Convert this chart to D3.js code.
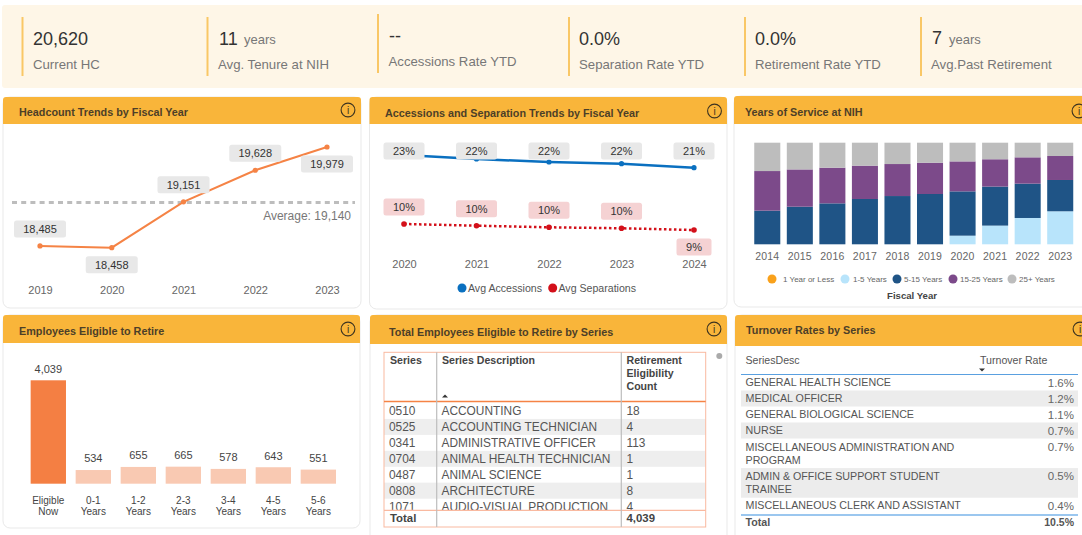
<!DOCTYPE html>
<html><head><meta charset="utf-8">
<script src="https://cdn.jsdelivr.net/npm/d3@7"></script>
<style>
html,body{margin:0;padding:0;background:#fff;overflow:hidden}
svg{display:block}
text{font-family:"Liberation Sans",Arial,sans-serif}
</style></head><body><svg id="c" width="1082" height="535"></svg>
<script>
// ---------- data ----------
const kpiValues=["20,620","11","--","0.0%","0.0%","7"];
const kpiUnits=["","years","","","","years"];
const kpiLabels=["Current HC","Avg. Tenure at NIH","Accessions Rate YTD","Separation Rate YTD","Retirement Rate YTD","Avg.Past Retirement"];
const hcYears=["2019","2020","2021","2022","2023"];
const hcValues=[18485,18458,19151,19628,19979];
const hcAverage=19140;
const rateYears=["2020","2021","2022","2023","2024"];
const avgAccessions=[23.2,22.46,21.9,21.59,20.85];
const avgSeparations=[10.42,10.11,9.81,9.63,9.31];
const serviceYears=["2014","2015","2016","2017","2018","2019","2020","2021","2022","2023"];
const serviceBands=["1 Year or Less","1-5 Years","5-15 Years","15-25 Years","25+ Years"];
const serviceLess1=[0,0,0,0,0,0,0,0,0,0];
const service1to5=[0,0,0,0,0,0,8.5,18.4,25.9,32.5];
const service5to15=[33.1,37,40.3,44.6,47.5,49.5,43.6,38.4,33.8,30.8];
const service15to25=[39,36.7,35.1,32.8,31.5,30.8,29.5,26.9,25.9,23.6];
const service25plus=[27.9,26.3,24.6,22.6,21,19.7,18.4,16.3,14.4,13.1];
const retireCats=["Eligible Now","0-1 Years","1-2 Years","2-3 Years","3-4 Years","4-5 Years","5-6 Years"];
const retireValues=[4039,534,655,665,578,643,551];
const seriesCodes=["0510","0525","0341","0704","0487","0808","1071"];
const seriesNames=["ACCOUNTING","ACCOUNTING TECHNICIAN","ADMINISTRATIVE OFFICER","ANIMAL HEALTH TECHNICIAN","ANIMAL SCIENCE","ARCHITECTURE","AUDIO-VISUAL PRODUCTION"];
const seriesCounts=["18","4","113","1","1","8","4"];
const turnoverNames=[["GENERAL HEALTH SCIENCE"],["MEDICAL OFFICER"],["GENERAL BIOLOGICAL SCIENCE"],["NURSE"],["MISCELLANEOUS ADMINISTRATION AND","PROGRAM"],["ADMIN & OFFICE SUPPORT STUDENT","TRAINEE"],["MISCELLANEOUS CLERK AND ASSISTANT"]];
const turnoverRates=["1.6%","1.2%","1.1%","0.7%","0.7%","0.5%","0.4%"];

// ---------- layout ----------
const svg=d3.select("#c");
const FONT='"Liberation Sans",Arial,sans-serif';
const txt=(g,x,y,s,o={})=>g.append("text").attr("x",x).attr("y",y).attr("dy","0.35em")
  .attr("font-size",o.size||12).attr("fill",o.fill||"#555").attr("font-weight",o.weight||400)
  .attr("text-anchor",o.anchor||"start").attr("letter-spacing",o.ls||null).text(s);

// KPI band
svg.append("rect").attr("x",2).attr("y",5).attr("width",1082).attr("height",83).attr("rx",3).attr("fill","#fef6e7");
const kpiX=[22.5,207.5,378,569,745,921];
const kpiTextX=[33,218,388.5,579,755,931];
const kpiValX=[33,219,389,579,755,932];
const kpiUnitX=[0,244,0,0,0,949];
const kpiTop=[17,17,14,17,17,17];
const kpiValY=[38.5,38.5,35.5,38.5,38.5,38];
kpiValues.forEach((v,i)=>{
  const g=svg.append("g");
  g.append("rect").attr("x",kpiX[i]-1).attr("y",kpiTop[i]).attr("width",2).attr("height",59).attr("fill","#f9c766");
  txt(g,kpiValX[i],kpiValY[i],v,{size:18,fill:"#333"});
  if(kpiUnits[i]) txt(g,kpiUnitX[i],kpiValY[i]+1,kpiUnits[i],{size:13,fill:"#777"});
  txt(g,kpiTextX[i],kpiTop[i]+47,kpiLabels[i],{size:13.2,fill:"#777"});
});

// Panels
const panels=[
 {x:3,y:97,w:358,hh:27,h:211,t:"Headcount Trends by Fiscal Year",tx:19,ty:112,ix:348,iy:110},
 {x:369.5,y:97,w:357.5,hh:27,h:212,t:"Accessions and Separation Trends by Fiscal Year",tx:385,ty:113,ix:714.5,iy:111},
 {x:734,y:96,w:360,hh:28,h:211,t:"Years of Service at NIH",tx:745,ty:112,ix:1079,iy:111},
 {x:3,y:315,w:357,hh:28,h:213,t:"Employees Eligible to Retire",tx:19,ty:331,ix:348,iy:329},
 {x:370,y:315,w:357,hh:29,h:230,t:"Total Employees Eligible to Retire by Series",tx:389,ty:332,ix:714,iy:329},
 {x:735,y:315,w:360,hh:31,h:230,t:"Turnover Rates by Series",tx:746,ty:330,ix:1080,iy:329}
];
panels.forEach(p=>{
  const g=svg.append("g");
  g.append("rect").attr("x",p.x).attr("y",p.y).attr("width",p.w).attr("height",p.h).attr("rx",7).attr("fill","#fff").attr("stroke","#e9e9e9");
  g.append("path").attr("fill","#f9b53a").attr("d",`M${p.x},${p.y+p.hh}V${p.y+3}Q${p.x},${p.y} ${p.x+3},${p.y}H${p.x+p.w-3}Q${p.x+p.w},${p.y} ${p.x+p.w},${p.y+3}V${p.y+p.hh}Z`);
  txt(g,p.tx,p.ty,p.t,{size:10.8,weight:700,fill:"#4d3f28"});
  g.append("circle").attr("cx",p.ix).attr("cy",p.iy).attr("r",6.9).attr("fill","none").attr("stroke","#3d3320").attr("stroke-width",1.1);
  txt(g,p.ix,p.iy,"i",{size:10,anchor:"middle",fill:"#3d3320"});
});

function bottomAxis(scale,y,o={}){
  const a=svg.append("g").attr("transform",`translate(0,${y})`).call(d3.axisBottom(scale).tickSize(0).tickPadding(0));
  a.select(".domain").remove();
  a.selectAll("text").attr("font-family",FONT).attr("font-size",o.size||11).attr("fill",o.fill||"#666").attr("letter-spacing",o.ls||null).attr("dy","0.35em");
  return a;
}
function pill(g,cx,cy,w,s,fill){
  g.append("rect").attr("x",cx-w/2).attr("y",cy-8.5).attr("width",w).attr("height",17).attr("rx",2.5).attr("fill",fill);
  txt(g,cx,cy,s,{size:11,anchor:"middle",fill:"#333"});
}

// Chart 1: headcount
{
  const x=d3.scalePoint().domain(hcYears).range([40,327]);
  const y=d3.scaleLinear().domain([18458,19979]).range([247.7,147]);
  const g=svg.append("g");
  g.append("line").attr("x1",12).attr("x2",355).attr("y1",y(hcAverage)).attr("y2",y(hcAverage))
    .attr("stroke","#bdbdbd").attr("stroke-width",3).attr("stroke-dasharray","5 4.2");
  g.append("path").datum(hcValues).attr("fill","none").attr("stroke","#f58345").attr("stroke-width",2)
    .attr("d",d3.line().x((d,i)=>x(hcYears[i])).y(d=>y(d)));
  g.selectAll("circle").data(hcValues).join("circle").attr("cx",(d,i)=>x(hcYears[i])).attr("cy",d=>y(d)).attr("r",2.6).attr("fill","#f58345");
  const dir=[-1,1,-1,-1,1];
  hcValues.forEach((v,i)=>pill(g,x(hcYears[i]),y(v)+dir[i]*17,52,d3.format(",")(v),"#e8e8e8"));
  txt(g,351,y(hcAverage)+13,"Average: "+d3.format(",")(hcAverage),{size:12,anchor:"end",fill:"#777"});
  bottomAxis(x,290);
}

// Chart 2: rates
{
  const x=d3.scalePoint().domain(rateYears).range([404,694]);
  const y=d3.scaleLinear().domain([9.31,23.2]).range([230,155]);
  const g=svg.append("g");
  const line=d3.line().x((d,i)=>x(rateYears[i])).y(d=>y(d));
  g.append("path").datum(avgAccessions).attr("fill","none").attr("stroke","#0a70c0").attr("stroke-width",2.5).attr("d",line);
  g.append("path").datum(avgSeparations).attr("fill","none").attr("stroke","#d3101a").attr("stroke-width",2.5).attr("stroke-dasharray","2.5 2.5").attr("d",line);
  g.selectAll(".a").data(avgAccessions).join("circle").attr("cx",(d,i)=>x(rateYears[i])).attr("cy",d=>y(d)).attr("r",2.6).attr("fill","#0a70c0");
  g.selectAll(".s").data(avgSeparations).join("circle").attr("cx",(d,i)=>x(rateYears[i])).attr("cy",d=>y(d)).attr("r",2.8).attr("fill","#d3101a");
  avgAccessions.forEach((v,i)=>pill(g,x(rateYears[i]),151,41,Math.round(v)+"%","#e8e8e8"));
  avgSeparations.forEach((v,i)=>{
    const last=i===avgSeparations.length-1;
    pill(g,x(rateYears[i]),y(v)+(last?17:-17),last?35:41,Math.round(v)+"%","#f5d2d3");
  });
  bottomAxis(x,264);
  const leg=svg.append("g");
  leg.append("circle").attr("cx",462).attr("cy",288).attr("r",4.5).attr("fill","#0a70c0");
  txt(leg,468,288,"Avg Accessions",{size:10.6,fill:"#555"});
  leg.append("circle").attr("cx",552.7).attr("cy",288).attr("r",4.5).attr("fill","#d3101a");
  txt(leg,558.5,288,"Avg Separations",{size:10.6,fill:"#555"});
}

// Chart 3: stacked years of service
{
  const x=d3.scaleBand().domain(serviceYears).range([751,1076.5]).paddingInner(0.2).paddingOuter(0.1);
  const y=d3.scaleLinear().domain([0,100]).range([244.3,142.7]);
  const colors=["#f9a11b","#b8e4fb","#1f5486","#7c4a8a","#bdbdbd"];
  const series=[serviceLess1,service1to5,service5to15,service15to25,service25plus];
  const rows=serviceYears.map((yr,i)=>{const r={yr};serviceBands.forEach((b,j)=>r[b]=series[j][i]);return r;});
  const stacked=d3.stack().keys(serviceBands)(rows);
  svg.append("g").selectAll("g").data(stacked).join("g").attr("fill",(d,i)=>colors[i])
    .selectAll("rect").data(d=>d.filter(s=>s[1]>s[0])).join("rect")
    .attr("x",d=>x(d.data.yr)).attr("width",x.bandwidth()).attr("y",d=>y(d[1])).attr("height",d=>y(d[0])-y(d[1]));
  bottomAxis(x,256,{size:10.5,ls:"0.2"});
  const leg=svg.append("g");
  const cx=[772,845,897,953,1012], tx=[783,853,904,960,1019];
  serviceBands.forEach((b,i)=>{
    leg.append("circle").attr("cx",cx[i]).attr("cy",279).attr("r",4.5).attr("fill",colors[i]);
    txt(leg,tx[i],279,b,{size:8,fill:"#666"});
  });
  txt(leg,912,296,"Fiscal Year",{size:9.6,weight:700,anchor:"middle",fill:"#444"});
}

// Chart 4: eligible to retire
{
  const x=d3.scaleBand().domain(retireCats).range([26.15,340.5]).paddingInner(0.215).paddingOuter(0.1);
  const y=d3.scaleLinear().domain([0,4039]).range([483.7,380.3]);
  const g=svg.append("g");
  g.selectAll("rect").data(retireValues).join("rect")
    .attr("x",(d,i)=>x(retireCats[i])).attr("width",x.bandwidth()).attr("y",d=>y(d)).attr("height",d=>y(0)-y(d))
    .attr("fill",(d,i)=>i?"#f9c9b2":"#f47f43");
  retireValues.forEach((v,i)=>txt(g,x(retireCats[i])+x.bandwidth()/2,y(v)-11.5,d3.format(",")(v),{size:11,anchor:"middle",fill:"#444"}));
  const a=bottomAxis(x,500,{size:10,fill:"#444"});
  a.selectAll("text").each(function(d){
    const t=d3.select(this).text("");const parts=d.split(" ");
    parts.forEach((s,k)=>t.append("tspan").attr("x",0).attr("dy",k?"11px":"0.35em").text(s));
  });
}

// Table 5
{
  const g=svg.append("g");
  const L=384,R=705.7,T=352.3,B=527,HB=401.5,TL=510.3,C1=436.7,C2=621.3;
  const rowY=d3.scaleLinear().domain([0,6]).range([411,506.6]);
  const defs=svg.append("defs");
  defs.append("clipPath").attr("id","tb").append("rect").attr("x",L).attr("y",HB).attr("width",R-L).attr("height",TL-HB);
  const body=g.append("g").attr("clip-path","url(#tb)");
  seriesCodes.forEach((c,i)=>{
    if(i%2) body.append("rect").attr("x",L).attr("y",rowY(i)-8).attr("width",R-L).attr("height",16).attr("fill","#eeeeee");
    txt(body,389,rowY(i),c,{size:11.9,fill:"#555"});
    txt(body,441.5,rowY(i),seriesNames[i],{size:11.9,fill:"#555"});
    txt(body,626.5,rowY(i),seriesCounts[i],{size:11.9,fill:"#555"});
  });
  g.append("rect").attr("x",L).attr("y",T).attr("width",R-L).attr("height",B-T).attr("fill","none").attr("stroke","#f9b9a0");
  g.append("line").attr("x1",L).attr("x2",R).attr("y1",HB).attr("y2",HB).attr("stroke","#f58345").attr("stroke-width",1.6);
  g.append("line").attr("x1",L).attr("x2",R).attr("y1",TL).attr("y2",TL).attr("stroke","#f9b9a0").attr("stroke-width",1.2);
  [C1,C2].forEach(c=>g.append("line").attr("x1",c).attr("x2",c).attr("y1",T).attr("y2",B).attr("stroke","#bdbdbd").attr("stroke-width",1.2));
  const H={size:10.6,weight:700,fill:"#444"};
  txt(g,390,360,"Series",H);
  txt(g,442,360,"Series Description",H);
  txt(g,626.5,360,"Retirement",H);txt(g,626.5,373,"Eligibility",H);txt(g,626.5,386.5,"Count",H);
  g.append("path").attr("d","M442,397.5h6l-3,-3z").attr("fill","#333");
  const F={size:11.4,weight:700,fill:"#444"};
  txt(g,390,518.5,"Total",F);
  txt(g,626.5,518.5,d3.format(",")(retireValues[0]),F);
  g.append("circle").attr("cx",719.3).attr("cy",356).attr("r",3).attr("fill","#aaa");
}

// Table 6
{
  const g=svg.append("g");
  const L=741,R=1078,TX=745.5,VX=1074;
  txt(g,TX,360,"SeriesDesc",{size:10.6,fill:"#555"});
  txt(g,980,360,"Turnover Rate",{size:10.6,fill:"#555"});
  g.append("path").attr("d","M979,368.5h6l-3,3z").attr("fill","#333");
  let top=374.5;
  const lineH=13, pad=3;
  turnoverNames.forEach((lines,i)=>{
    const h=lines.length*lineH+pad+(lines.length>1?0.6:0);
    if(i%2) g.append("rect").attr("x",L).attr("y",top).attr("width",R-L).attr("height",h).attr("fill","#ececec");
    lines.forEach((s,k)=>txt(g,TX,top+h/2-(lines.length-1)*lineH/2+k*lineH,s,{size:10.7,fill:"#555"}));
    txt(g,VX,top+(lines.length>1?lineH/2+pad/2:h/2),turnoverRates[i],{size:11.5,anchor:"end",fill:"#666"});
    top+=h;
  });
  g.append("line").attr("x1",L).attr("x2",R).attr("y1",374.5).attr("y2",374.5).attr("stroke","#5aa0e0").attr("stroke-width",1);
  g.append("line").attr("x1",L).attr("x2",R).attr("y1",515).attr("y2",515).attr("stroke","#7ab4ea").attr("stroke-width",1.6);
  txt(g,TX,522.7,"Total",{size:10.7,weight:700,fill:"#555"});
  txt(g,VX,522.7,"10.5%",{size:10.5,weight:700,anchor:"end",fill:"#555"});
}
</script></body></html>
